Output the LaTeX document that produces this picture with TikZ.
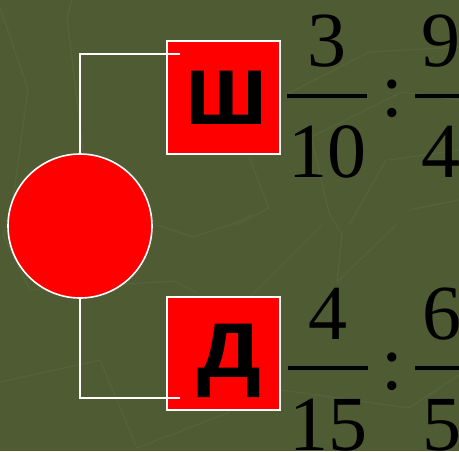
\documentclass[tikz,border=0pt]{standalone}
\usepackage{fontspec}
\setmainfont{Liberation Serif}
\newfontfamily\lettfont{Liberation Sans}
\definecolor{bgolive}{RGB}{79,91,50}
\definecolor{bgline}{RGB}{86,98,58}
\begin{document}
\begin{tikzpicture}[x=1pt,y=-1pt,
  pattern line/.style={draw=bgline,line width=1.3pt,line join=round},
  wire/.style={draw=white,line width=1.6pt},
  bigbox/.style={rectangle,draw=white,line width=2pt,fill=red,minimum width=113pt,minimum height=113pt,inner sep=0pt},
  letter/.style={anchor=base,inner sep=0pt,font=\lettfont\bfseries\fontsize{101}{101}\selectfont},
  digit/.style={anchor=base,inner sep=0pt,font=\fontsize{78}{78}\selectfont},
  fbar/.style={draw=black,line width=4.5pt}]
\fill[bgolive] (0,0) rectangle (459,451);
\useasboundingbox (0,0) rectangle (459,451);
% faint background pattern
\draw[pattern line] (0,7) -- (28,90) -- (13,200) -- (3,235) -- (30,290) -- (175,281) -- (197,293);
\draw[pattern line] (72,0) -- (67,17) -- (83,150);
\draw[pattern line] (157,225) -- (193,237) -- (230,225) -- (252,215);
\draw[pattern line] (0,382) -- (100,360) -- (137,448) -- (230,412);
\draw[pattern line] (289,93) -- (369,52) -- (459,47);
\draw[pattern line] (309,138) -- (402,92) -- (459,100);
\draw[pattern line] (249,157) -- (269,208) -- (236,225);
\draw[pattern line] (312,140) -- (329,213) -- (342,235) -- (337,282) -- (396,225);
\draw[pattern line] (389,160) -- (459,150);
\draw[pattern line] (349,225) -- (386,160);
\draw[pattern line] (409,210) -- (459,200);
\draw[pattern line] (252,295) -- (322,225);
\draw[pattern line] (281,390) -- (409,408) -- (459,375);
% main shapes
\node[circle,draw=white,line width=1.6pt,fill=red,minimum size=144pt,inner sep=0pt] (ball) at (80,226) {};
\node[bigbox] (topbox) at (223.5,97.5) {};
\node[bigbox] (botbox) at (223.5,353.5) {};
\coordinate (tend) at (180,54);
\coordinate (bend) at (180,398);
\draw[wire] (ball.north) |- (tend);
\draw[wire] (ball.south) |- (bend);
\node[letter] (sha) at (227,124) {ш};
\node[letter] (de) at (230,377) {д};
% top fractions
\node[digit] (n1) at (327,66) {3};
\node[digit] (d1) at (327,177) {10};
\coordinate (b1l) at (287,96); \coordinate (b1r) at (367,96);
\draw[fbar] (b1l) -- (b1r);
\node[digit] (c1) at (392,116) {:};
\node[digit] (n2) at (441,66) {9};
\node[digit] (d2) at (441,177) {4};
\coordinate (b2l) at (415,96); \coordinate (b2r) at (467,96);
\draw[fbar] (b2l) -- (b2r);
% bottom fractions
\node[digit] (n3) at (328,339) {4};
\node[digit] (d3) at (328,450) {15};
\coordinate (b3l) at (288,368); \coordinate (b3r) at (368,368);
\draw[fbar] (b3l) -- (b3r);
\node[digit] (c2) at (392,389) {:};
\node[digit] (n4) at (442,339) {6};
\node[digit] (d4) at (442,450) {5};
\coordinate (b4l) at (415,368); \coordinate (b4r) at (467,368);
\draw[fbar] (b4l) -- (b4r);
\end{tikzpicture}
\end{document}
